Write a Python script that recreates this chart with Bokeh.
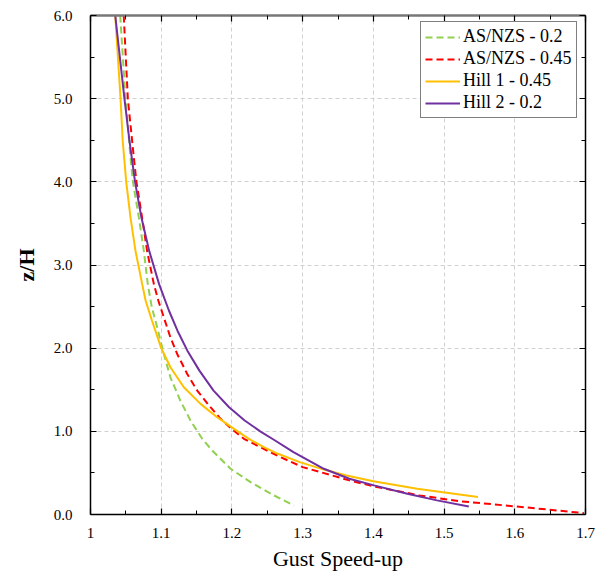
from bokeh.plotting import figure
from bokeh.models import Range1d, FixedTicker, LinearAxis, Legend, LegendItem
from bokeh.embed import file_html
from bokeh.resources import INLINE

# ---- data (z/H, gust speed-up) ----
asnzs02_z = [6.0, 5.0, 4.29, 4.0, 3.57, 3.17, 2.77, 2.5, 2.25, 1.93, 1.65, 1.37, 1.13, 0.91, 0.77, 0.55, 0.39, 0.23, 0.108]
asnzs02_x = [1.042, 1.0495, 1.0566, 1.060, 1.0684, 1.0754, 1.081, 1.0865, 1.0943, 1.1037, 1.113, 1.127, 1.1414, 1.158, 1.172, 1.198, 1.2263, 1.2593, 1.2876]

asnzs045_z = [6.0, 5.0, 4.29, 4.0, 3.57, 3.17, 2.77, 2.57, 2.37, 2.13, 1.93, 1.69, 1.49, 1.29, 1.15, 1.02, 0.91, 0.81, 0.69, 0.57, 0.51, 0.41, 0.33, 0.23, 0.16, 0.088, 0.016]
asnzs045_x = [1.047, 1.0528, 1.0613, 1.065, 1.073, 1.080, 1.0896, 1.096, 1.1037, 1.113, 1.1226, 1.1368, 1.1509, 1.1697, 1.1839, 1.201, 1.217, 1.240, 1.2687, 1.300, 1.325, 1.366, 1.405, 1.465, 1.522, 1.613, 1.698]

hill1_z = [6.0, 5.0, 4.5, 4.0, 3.57, 3.17, 2.77, 2.57, 2.33, 2.0, 1.77, 1.53, 1.33, 1.17, 1.03, 0.91, 0.81, 0.73, 0.63, 0.54, 0.47, 0.40, 0.31, 0.21]
hill1_x = [1.035, 1.0425, 1.0455, 1.0505, 1.0566, 1.0636, 1.0731, 1.078, 1.087, 1.100, 1.113, 1.132, 1.1556, 1.179, 1.203, 1.224, 1.245, 1.265, 1.296, 1.330, 1.362, 1.400, 1.462, 1.548]

hill2_z = [6.0, 5.0, 4.5, 4.0, 3.57, 3.17, 2.77, 2.45, 2.21, 1.97, 1.73, 1.49, 1.29, 1.13, 1.0, 0.89, 0.75, 0.55, 0.43, 0.35, 0.25, 0.17, 0.096]
hill2_x = [1.035, 1.048, 1.055, 1.063, 1.072, 1.083, 1.097, 1.111, 1.123, 1.137, 1.154, 1.174, 1.196, 1.218, 1.240, 1.261, 1.287, 1.330, 1.366, 1.401, 1.448, 1.490, 1.535]

series_names = ["AS/NZS - 0.2", "AS/NZS - 0.45", "Hill 1 - 0.45", "Hill 2 - 0.2"]

x_ticks = [1.0, 1.1, 1.2, 1.3, 1.4, 1.5, 1.6, 1.7]
x_tick_labels = ["1", "1.1", "1.2", "1.3", "1.4", "1.5", "1.6", "1.7"]
x_minor = [1.05, 1.15, 1.25, 1.35, 1.45, 1.55, 1.65]
y_ticks = [0, 1, 2, 3, 4, 5, 6]
y_tick_labels = ["0.0", "1.0", "2.0", "3.0", "4.0", "5.0", "6.0"]
y_minor = [0.5, 1.5, 2.5, 3.5, 4.5, 5.5]

FONT = "Liberation Serif"

p = figure(width=598, height=573, output_backend="svg", toolbar_location=None,
           x_range=Range1d(1.0, 1.7), y_range=Range1d(0, 6),
           min_border_left=90, min_border_right=13, min_border_top=15, min_border_bottom=59,
           x_axis_label="Gust Speed-up", y_axis_label="z/H")
p.outline_line_color = None
p.background_fill_color = "white"
p.border_fill_color = "white"

xt = FixedTicker(ticks=x_ticks, minor_ticks=x_minor)
yt = FixedTicker(ticks=y_ticks, minor_ticks=y_minor)

def style_axis(ax, labels=True, color="black"):
    ax.axis_line_color = color
    ax.axis_line_width = 1.5
    ax.major_tick_in = 6
    ax.major_tick_out = 0
    ax.minor_tick_in = 4
    ax.minor_tick_out = 0
    ax.major_tick_line_color = "black"
    ax.minor_tick_line_color = "black"
    ax.major_tick_line_width = 1.2
    ax.minor_tick_line_width = 1.0
    ax.major_label_text_font = FONT
    ax.major_label_text_font_size = "15px"
    ax.major_label_text_color = "black"
    ax.axis_label_text_font = FONT
    ax.axis_label_text_font_style = "normal"
    ax.axis_label_text_color = "black"
    if not labels:
        ax.major_label_text_font_size = "0px"
        ax.major_label_text_color = None

xa = p.xaxis[0]
xa.ticker = xt
xa.major_label_overrides = {t: l for t, l in zip(x_ticks, x_tick_labels)}
style_axis(xa)
xa.axis_label_text_font_size = "22px"
xa.major_label_standoff = 13
xa.axis_label_standoff = 5

ya = p.yaxis[0]
ya.ticker = yt
ya.major_label_overrides = {t: l for t, l in zip(y_ticks, y_tick_labels)}
style_axis(ya)
ya.axis_label_text_font_size = "22px"
ya.axis_label_text_font_style = "bold"
ya.major_label_standoff = 18
ya.axis_label_standoff = 12

top = LinearAxis(ticker=xt)
style_axis(top, labels=False, color="#777777")
top.axis_line_width = 2.5
p.add_layout(top, "above")
right = LinearAxis(ticker=yt)
style_axis(right, labels=False)
p.add_layout(right, "right")

p.xgrid.ticker = xt
p.ygrid.ticker = yt
for g in (p.xgrid[0], p.ygrid[0]):
    g.grid_line_color = "#d0d0d0"
    g.grid_line_dash = "4 3"
    g.grid_line_width = 1

r1 = p.line(asnzs02_x, asnzs02_z, line_color="#92d050", line_width=2, line_dash="7 4")
r2 = p.line(asnzs045_x, asnzs045_z, line_color="#ff0000", line_width=2, line_dash="7 4")
r3 = p.line(hill1_x, hill1_z, line_color="#ffc000", line_width=2)
r4 = p.line(hill2_x, hill2_z, line_color="#7030a0", line_width=2)

legend = Legend(items=[LegendItem(label=n, renderers=[r]) for n, r in zip(series_names, [r1, r2, r3, r4])],
                location=(330, 396))
legend.label_text_font = FONT
legend.label_text_font_size = "18px"
legend.label_text_color = "black"
legend.border_line_color = "black"
legend.border_line_width = 1
legend.background_fill_alpha = 1
legend.glyph_width = 35
legend.glyph_height = 20
legend.label_height = 20
legend.label_standoff = 3
legend.spacing = 1
legend.padding = 4
legend.margin = 0
p.add_layout(legend, "center")

open("out.html", "w").write(file_html(p, INLINE))
